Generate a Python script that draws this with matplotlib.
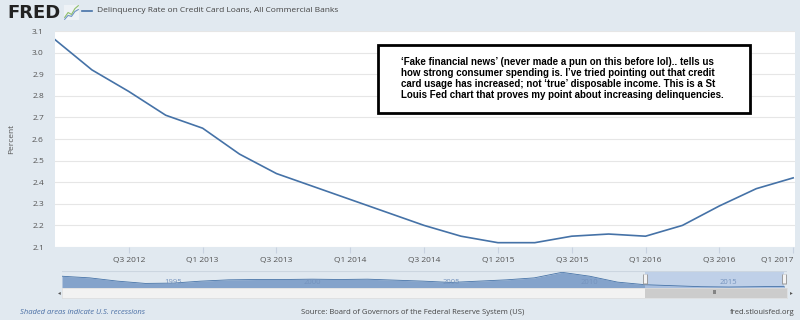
import numpy as np
import matplotlib.pyplot as plt
from matplotlib.patches import Rectangle

# quarterly delinquency rate, Q1 2012 .. Q1 2017
quarters = ['Q1 2012', 'Q2 2012', 'Q3 2012', 'Q4 2012',
            'Q1 2013', 'Q2 2013', 'Q3 2013', 'Q4 2013',
            'Q1 2014', 'Q2 2014', 'Q3 2014', 'Q4 2014',
            'Q1 2015', 'Q2 2015', 'Q3 2015', 'Q4 2015',
            'Q1 2016', 'Q2 2016', 'Q3 2016', 'Q4 2016',
            'Q1 2017']
rate = [3.06, 2.92, 2.82, 2.71, 2.65, 2.53, 2.44, 2.38, 2.32, 2.26, 2.20,
        2.15, 2.12, 2.12, 2.15, 2.16, 2.15, 2.20, 2.29, 2.37, 2.42]
yticks = [2.1, 2.2, 2.3, 2.4, 2.5, 2.6, 2.7, 2.8, 2.9, 3.0, 3.1]

# navigator (full history, yearly, rough)
nav_years = list(range(1991, 2018))
nav_rate = [5.4, 4.9, 3.9, 3.2, 3.3, 3.9, 4.3, 4.4, 4.4, 4.5, 4.4, 4.5, 4.2,
            3.9, 3.5, 3.9, 4.3, 4.9, 6.6, 5.4, 3.6, 2.8, 2.5, 2.2, 2.1, 2.2, 2.3]
nav_labels = [1995, 2000, 2005, 2010, 2015]
sel_start, sel_end = 2012.0, 2017.0

note = ("\u2018Fake financial news\u2019 (never made a pun on this before lol).. tells us\n"
        "how strong consumer spending is. I\u2019ve tried pointing out that credit\n"
        "card usage has increased; not \u2018true\u2019 disposable income. This is a St\n"
        "Louis Fed chart that proves my point about increasing delinquencies.")

bg = '#e1e9f0'
blue = '#4572a7'
W, H = 800, 320
plt.rcParams['font.family'] = ['Open Sans', 'DejaVu Sans']

fig = plt.figure(figsize=(8, 3.2), dpi=100, facecolor=bg)

def box(x0, y0, x1, y1):
    # pixel box (top-left origin) -> figure fraction rect
    return [x0 / W, 1 - y1 / H, (x1 - x0) / W, (y1 - y0) / H]

# main plot
ax = fig.add_axes(box(55, 31, 795, 247))
ax.set_facecolor('white')
x = np.arange(len(rate))
ax.plot(x, rate, color=blue, lw=1.2)
ax.set_xlim(0, 20.05)
ax.set_ylim(2.1, 3.1)
ax.set_yticks(yticks)
ax.set_yticklabels([f'{v:.1f}' for v in yticks])
ax.set_xticks(x[2::2])
ax.set_xticklabels(quarters[2::2])
ax.get_xticklabels()[-1].set_ha('right')
ax.grid(axis='y', color='#e6e6e6', lw=0.8)
ax.set_axisbelow(True)
for s in ax.spines.values():
    s.set_visible(False)
ax.tick_params(axis='y', length=0, labelsize=6, labelcolor='#555555', pad=8)
ax.tick_params(axis='x', length=4, color='#c8d2e0', labelsize=6,
               labelcolor='#555555', pad=3)
ax.set_ylabel('Percent', fontsize=6, color='#555555', labelpad=12)

# header
fig.text(7 / W, 1 - 13 / H, 'FRED', fontsize=13, fontweight='heavy',
         family='DejaVu Sans', color='#222222', va='center', ha='left')
icon = fig.add_axes(box(64, 5, 79, 20))
icon.set_facecolor('#eef2f6')
icon.plot([0, 1, 2, 3, 4], [1, 2, 1.6, 2.8, 3.4], color='#8fbf6a', lw=0.8)
icon.plot([0, 1, 2, 3, 4], [0.6, 1.4, 1.2, 2.2, 2.6], color='#6f95c4', lw=0.8)
icon.set_xticks([]); icon.set_yticks([])
for s in icon.spines.values():
    s.set_visible(False)
fig.lines.append(plt.Line2D([82 / W, 92 / W], [1 - 11 / H, 1 - 11 / H],
                            transform=fig.transFigure, color=blue, lw=1.2))
fig.text(97 / W, 1 - 11 / H, 'Delinquency Rate on Credit Card Loans, All Commercial Banks',
         fontsize=6, color='#444444', va='center', ha='left')

# annotation box
fig.patches.append(Rectangle((378 / W, 1 - 113 / H), (750 - 378) / W, (113 - 45) / H,
                             transform=fig.transFigure, facecolor='white',
                             edgecolor='black', lw=2, zorder=5))
fig.text(401 / W, 1 - 57 / H, note, fontsize=7.0, fontweight='bold',
         family='Liberation Sans', va='top', ha='left', linespacing=1.13,
         color='black', zorder=6)

# navigator
nav = fig.add_axes(box(62, 271, 787, 288))
nav.set_facecolor(bg)
nav.fill_between(nav_years, 1.8, nav_rate, color='#84a3cb', lw=0)
nav.plot(nav_years, nav_rate, color=blue, lw=0.6)
nav.axvspan(sel_start, sel_end, color='#b4c8e6', alpha=0.75, lw=0)
for yr in nav_labels:
    nav.text(yr, 0.1, str(yr), fontsize=5.5, color='#7593bd', ha='center',
             va='bottom', transform=nav.get_xaxis_transform())
for xs in (sel_start, sel_end):
    nav.plot([xs, xs], [0.25, 0.85], transform=nav.get_xaxis_transform(),
             color='#999999', lw=3.5, solid_capstyle='butt')
    nav.plot([xs, xs], [0.3, 0.8], transform=nav.get_xaxis_transform(),
             color='#f4f4f4', lw=2.2, solid_capstyle='butt')
nav.set_xlim(1991, 2017.1)
nav.set_ylim(1.8, 7.0)
nav.set_xticks([]); nav.set_yticks([])
for s in nav.spines.values():
    s.set_visible(False)
nav.axhline(7.0, color='#ccd6e0', lw=0.8)

# scrollbar
sb = fig.add_axes(box(62, 288, 787, 298))
sb.set_facecolor('#f2f2f2')
sb.axvspan(sel_start, sel_end + 0.1, color='#cccccc', lw=0)
sb.text((sel_start + sel_end) / 2, 0.5, 'III', fontsize=4, color='#333333',
        ha='center', va='center', transform=sb.get_xaxis_transform())
sb.set_xlim(1991, 2017.1)
sb.set_xticks([]); sb.set_yticks([])
for s in sb.spines.values():
    s.set_color('#dddddd'); s.set_linewidth(0.5)
fig.text(59 / W, 1 - 293 / H, '\u25c2', fontsize=4, color='#555555', ha='center',
         va='center', family='DejaVu Sans')
fig.text(791 / W, 1 - 293 / H, '\u25b8', fontsize=4, color='#555555', ha='center',
         va='center', family='DejaVu Sans')

# footer
fig.text(20 / W, 1 - 312 / H, 'Shaded areas indicate U.S. recessions', fontsize=5.5,
         style='italic', color='#4a6fa5', va='center', ha='left')
fig.text(413 / W, 1 - 312 / H, 'Source: Board of Governors of the Federal Reserve System (US)',
         fontsize=5.5, color='#444444', va='center', ha='center')
fig.text(795 / W, 1 - 312 / H, 'fred.stlouisfed.org', fontsize=5.5, color='#444444',
         va='center', ha='right')

fig.savefig('out.png', dpi=100, facecolor=bg)
